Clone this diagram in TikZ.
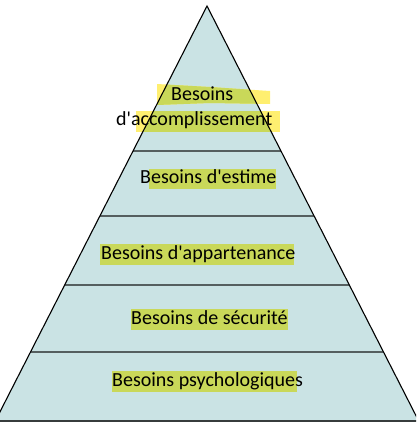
\documentclass[tikz,border=0pt]{standalone}
\usepackage{fontspec}
\setmainfont{Carlito}[Ligatures=TeXOff]
\definecolor{pyr}{RGB}{202,227,228}
\definecolor{hl}{RGB}{201,216,89}
\definecolor{yel}{RGB}{255,239,112}
\definecolor{divc}{RGB}{85,95,95}
\begin{document}
\begin{tikzpicture}[x=1pt,y=-1pt,
  lbl/.style={anchor=base west,inner sep=0pt,font=\fontsize{20}{24}\selectfont},
  divline/.style={draw=divc,line width=1.3pt},
  edge/.style={draw=black,line width=1.1pt}]
\useasboundingbox (0,0) rectangle (416,431);
\clip (0,0) rectangle (416,431);
\coordinate (apex) at (207,6);
\coordinate (bl) at (-4.7,421);
\coordinate (br) at (418.7,421);
\fill[pyr] (apex) -- (bl) -- (br) -- cycle;
% yellow brush highlights of the top label
\fill[yel] (157,84) -- (210,87) -- (270,91) -- (270,104) -- (210,103) -- (157,105) -- cycle;
\fill[yel] (136,111) rectangle (280,132);
\begin{scope}
  \clip (apex) -- (bl) -- (br) -- cycle;
  \fill[hl] (157,84) -- (210,87) -- (270,91) -- (270,104) -- (210,103) -- (157,105) -- cycle;
  \fill[hl] (136,111) rectangle (280,132);
  \fill[hl] (149,169) rectangle (276,189);
  \fill[hl] (100,244) rectangle (294,265);
  \fill[hl] (131,309) rectangle (288,330);
  \fill[hl] (112,371) rectangle (297,392);
  \coordinate (d1l) at (0,151); \coordinate (d1r) at (416,151);
  \coordinate (d2l) at (0,216); \coordinate (d2r) at (416,216);
  \coordinate (d3l) at (0,285); \coordinate (d3r) at (416,285);
  \coordinate (d4l) at (0,352); \coordinate (d4r) at (416,352);
  \draw[divline] (d1l) -- (d1r);
  \draw[divline] (d2l) -- (d2r);
  \draw[divline] (d3l) -- (d3r);
  \draw[divline] (d4l) -- (d4r);
\end{scope}
\draw[edge] (bl) -- (apex) -- (br);
\draw[draw={rgb,255:red,55;green,60;blue,60},line width=2pt] (bl) -- (br);
\node[lbl] (t1) at (171,100) {Besoins};
\node[lbl] (t2) at (116,125) {d'accomplissement};
\node[lbl] (t3) at (140,183) {Besoins d'estime};
\node[lbl] (t4) at (101,259) {Besoins d'appartenance};
\node[lbl] (t5) at (131,324) {Besoins de sécurité};
\node[lbl] (t6) at (112,386) {Besoins psychologiques};
\end{tikzpicture}
\end{document}
